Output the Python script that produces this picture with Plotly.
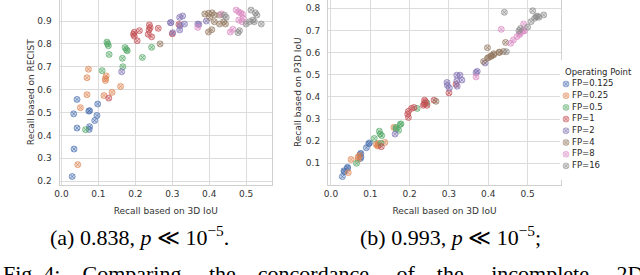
import plotly.graph_objects as go

# ---------------- data ----------------
fp_labels = ["FP=0.125", "FP=0.25", "FP=0.5", "FP=1", "FP=2", "FP=4", "FP=8", "FP=16"]
colors = ["#4C72B0", "#DD8452", "#55A868", "#C44E52", "#8172B3", "#937860", "#DA8BC3", "#8C8C8C"]

# recall based on 3D IoU (shared x of both panels)
x_fp0125 = [0.029, 0.034, 0.033, 0.042, 0.042, 0.074, 0.076, 0.098, 0.096, 0.090, 0.076, 0.075]
x_fp025 = [0.073, 0.069, 0.069, 0.051, 0.044, 0.121, 0.119, 0.119, 0.160, 0.137, 0.115]
x_fp05 = [0.065, 0.110, 0.123, 0.125, 0.127, 0.129, 0.172, 0.176, 0.178, 0.165, 0.166, 0.219, 0.244]
x_fp1 = [0.128, 0.197, 0.195, 0.197, 0.205, 0.211, 0.238, 0.240, 0.237, 0.235, 0.244, 0.262, 0.318, 0.300]
x_fp2 = [0.163, 0.295, 0.296, 0.301, 0.320, 0.328, 0.333, 0.320, 0.321, 0.369, 0.372, 0.392]
x_fp4 = [0.267, 0.388, 0.398, 0.408, 0.414, 0.401, 0.414, 0.428, 0.439, 0.444, 0.428, 0.398, 0.407]
x_fp8 = [0.433, 0.473, 0.480, 0.485, 0.490, 0.480, 0.489, 0.492, 0.464, 0.457, 0.369]
x_fp16 = [0.441, 0.446, 0.513, 0.525, 0.529, 0.518, 0.522, 0.509, 0.500, 0.541, 0.482, 0.478]

# recall based on RECIST (panel a)
recist_fp0125 = [0.220, 0.340, 0.494, 0.557, 0.432, 0.506, 0.508, 0.537, 0.487, 0.465, 0.438, 0.426]
recist_fp025 = [0.689, 0.652, 0.578, 0.521, 0.272, 0.660, 0.648, 0.640, 0.614, 0.588, 0.574]
recist_fp05 = [0.425, 0.683, 0.808, 0.800, 0.792, 0.754, 0.784, 0.775, 0.770, 0.737, 0.700, 0.741, 0.785]
recist_fp1 = [0.563, 0.851, 0.842, 0.834, 0.814, 0.858, 0.883, 0.871, 0.861, 0.842, 0.831, 0.868, 0.885, 0.844]
recist_fp2 = [0.678, 0.893, 0.893, 0.849, 0.916, 0.922, 0.887, 0.861, 0.880, 0.887, 0.885, 0.900]
recist_fp4 = [0.800, 0.931, 0.934, 0.936, 0.926, 0.916, 0.897, 0.887, 0.897, 0.887, 0.926, 0.852, 0.862]
recist_fp8 = [0.931, 0.948, 0.940, 0.935, 0.930, 0.904, 0.897, 0.912, 0.864, 0.852, 0.872]
recist_fp16 = [0.926, 0.916, 0.948, 0.936, 0.926, 0.904, 0.897, 0.897, 0.887, 0.887, 0.858, 0.849]

# recall based on P3D IoU (panel b)
p3d_fp0125 = [0.040, 0.062, 0.066, 0.082, 0.078, 0.140, 0.145, 0.192, 0.188, 0.170, 0.128, 0.122]
p3d_fp025 = [0.135, 0.128, 0.118, 0.117, 0.058, 0.190, 0.182, 0.178, 0.262, 0.194, 0.185]
p3d_fp05 = [0.100, 0.212, 0.245, 0.232, 0.190, 0.225, 0.249, 0.275, 0.278, 0.262, 0.255, 0.348, 0.372]
p3d_fp1 = [0.175, 0.335, 0.322, 0.307, 0.348, 0.352, 0.385, 0.378, 0.368, 0.362, 0.362, 0.385, 0.457, 0.418]
p3d_fp2 = [0.232, 0.465, 0.452, 0.440, 0.498, 0.498, 0.476, 0.472, 0.448, 0.510, 0.515, 0.553]
p3d_fp4 = [0.380, 0.560, 0.575, 0.585, 0.590, 0.578, 0.595, 0.600, 0.605, 0.646, 0.602, 0.622, 0.583]
p3d_fp8 = [0.705, 0.672, 0.687, 0.695, 0.729, 0.682, 0.700, 0.698, 0.657, 0.642, 0.490]
p3d_fp16 = [0.782, 0.604, 0.789, 0.765, 0.760, 0.755, 0.762, 0.740, 0.715, 0.770, 0.709, 0.699]

xs = [x_fp0125, x_fp025, x_fp05, x_fp1, x_fp2, x_fp4, x_fp8, x_fp16]
ys_a = [recist_fp0125, recist_fp025, recist_fp05, recist_fp1, recist_fp2, recist_fp4, recist_fp8, recist_fp16]
ys_b = [p3d_fp0125, p3d_fp025, p3d_fp05, p3d_fp1, p3d_fp2, p3d_fp4, p3d_fp8, p3d_fp16]

ticks_x = [0.0, 0.1, 0.2, 0.3, 0.4, 0.5]
ticks_a = [0.2, 0.3, 0.4, 0.5, 0.6, 0.7, 0.8, 0.9]
ticks_b = [0.1, 0.2, 0.3, 0.4, 0.5, 0.6, 0.7, 0.8]

NB = "\u00a0"
captions = ["(a) 0.838, <i>p</i>" + NB + "≪" + NB + "10<sup>−5</sup>.",
            "(b) 0.993, <i>p</i>" + NB + "≪" + NB + "10<sup>−5</sup>;"]
fig_words = ["Fig." + NB + "4:", "Comparing", "the", "concordance", "of", "the", "incomplete", "2D"]
gaps = [4, 5, 4, 5, 4, 5, 5]
fig_caption = fig_words[0] + "".join(NB * g + w for g, w in zip(gaps, fig_words[1:]))
legend_title = "Operating Point"


def rgba(h, a):
    h = h.lstrip("#")
    return "rgba(%d,%d,%d,%.2f)" % (int(h[0:2], 16), int(h[2:4], 16), int(h[4:6], 16), a)


W, H = 640, 275
fig = go.Figure()

for i, lab in enumerate(fp_labels):
    mk = dict(symbol="circle-x", size=6, color=rgba(colors[i], 0.30),
              line=dict(color=rgba(colors[i], 0.78), width=0.85))
    fig.add_trace(go.Scatter(x=xs[i], y=ys_a[i], mode="markers", marker=mk,
                             xaxis="x", yaxis="y", showlegend=False, name=lab))
    fig.add_trace(go.Scatter(x=xs[i], y=ys_b[i], mode="markers", marker=mk,
                             xaxis="x2", yaxis="y2", showlegend=False, name=lab))

# compact legend drawn on its own hidden axes
idx = list(range(len(fp_labels)))
fig.add_trace(go.Scatter(
    x=[0] * len(idx), y=idx, mode="markers", xaxis="x3", yaxis="y3", showlegend=False,
    marker=dict(symbol="circle-x", size=6, color=[rgba(c, 0.35) for c in colors],
                line=dict(color=[rgba(c, 0.6) for c in colors], width=0.8)),
    hoverinfo="skip", cliponaxis=False))
fig.add_trace(go.Scatter(
    x=[1] * len(idx), y=idx, mode="text", text=fp_labels, textposition="middle right",
    xaxis="x3", yaxis="y3", showlegend=False, hoverinfo="skip", cliponaxis=False,
    textfont=dict(family="DejaVu Sans", size=8.5, color="#262626")))

tickfont = dict(family="DejaVu Sans", size=9, color="#333333")
titlefont = dict(family="DejaVu Sans", size=9, color="#333333")
grid = "#dcdcdc"

ytop, ybot = 0, 184.5
ydom = [1 - ybot / H, 1 - ytop / H]

common_x = dict(showgrid=True, gridcolor=grid, gridwidth=1, zeroline=False,
                showline=True, linecolor="#d0d0d0", linewidth=1, mirror=True,
                tickvals=ticks_x, ticktext=["%.1f" % t for t in ticks_x],
                ticks="outside", ticklen=1, tickcolor="rgba(0,0,0,0)",
                tickfont=tickfont, automargin=False)
common_y = dict(showgrid=True, gridcolor=grid, gridwidth=1, zeroline=False,
                showline=True, linecolor="#d0d0d0", linewidth=1, mirror=True,
                ticks="outside", ticklen=5, tickcolor="rgba(0,0,0,0)",
                tickfont=tickfont, automargin=False)

fig.update_layout(
    width=W, height=H, margin=dict(l=0, r=0, t=0, b=0),
    paper_bgcolor="white", plot_bgcolor="white",
    xaxis=dict(domain=[59.5 / W, 272 / W], range=[-0.0054, 0.570],
               title=dict(text="Recall based on 3D IoU", font=titlefont, standoff=9),
               anchor="y", **common_x),
    yaxis=dict(domain=ydom, range=[0.185, 0.992], tickvals=ticks_a,
               ticktext=["%.1f" % t for t in ticks_a],
               title=dict(text="Recall based on RECIST", font=titlefont, standoff=1),
               anchor="x", **common_y),
    xaxis2=dict(domain=[328 / W, 561 / W], range=[-0.0076, 0.585],
                title=dict(text="Recall based on 3D IoU", font=titlefont, standoff=9),
                anchor="y2", **common_x),
    yaxis2=dict(domain=ydom, range=[0.0042, 0.8375], tickvals=ticks_b,
                ticktext=["%.1f" % t for t in ticks_b],
                title=dict(text="Recall based on P3D IoU", font=titlefont, standoff=2),
                anchor="x2", **common_y),
    xaxis3=dict(domain=[560 / W, 1.0], range=[-1, 12.33], visible=False, fixedrange=True),
    yaxis3=dict(domain=[1 - 180 / H, 1 - 60 / H], range=[8.205, -2.051], visible=False,
                fixedrange=True, anchor="x3"),
)

fig.add_annotation(text=legend_title, xref="paper", yref="y3", x=562.5 / W, y=-1,
                   xanchor="left", yanchor="middle", showarrow=False,
                   font=dict(family="DejaVu Sans", size=8.5, color="#262626"))

cap_font = dict(family="Liberation Serif", size=22, color="black")
fig.add_annotation(text=captions[0], xref="paper", yref="paper", x=139.5 / W, y=1 - 236 / H,
                   xanchor="center", yanchor="middle", showarrow=False, font=cap_font)
fig.add_annotation(text=captions[1], xref="paper", yref="paper", x=450.5 / W, y=1 - 236 / H,
                   xanchor="center", yanchor="middle", showarrow=False, font=cap_font)
fig.add_annotation(text=fig_caption, xref="paper", yref="paper", x=0.5 / W, y=1 - 273 / H,
                   xanchor="left", yanchor="middle", showarrow=False, font=cap_font)

fig.write_html("out.html", config={"displayModeBar": False},
               post_script="document.body.style.margin='0px';")
